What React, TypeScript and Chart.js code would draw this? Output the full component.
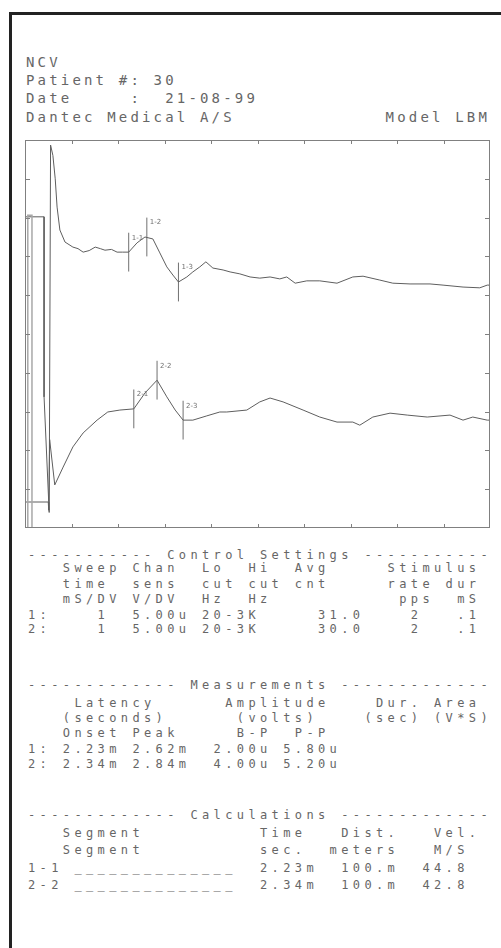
import React, { useEffect, useRef } from "react";
import { Chart, registerables } from "chart.js";

Chart.register(...registerables);

// ---- chart data (time in ms, level in screen divisions; 1 ms/div, 5 µV/div) ----
const xDivisions = [1, 2, 3, 4, 5, 6, 7, 8, 9];
const yDivisions = [1, 2, 3, 4, 5, 6, 7, 8, 9];

const trace1Time = [0, 0.41, 0.41, 0.52, 0.55, 0.6, 0.65, 0.69, 0.75, 0.86, 1.03, 1.14, 1.25, 1.38, 1.51, 1.62, 1.72, 1.86, 1.98, 2.1, 2.23, 2.41, 2.58, 2.75, 2.9, 3.05, 3.18, 3.3, 3.48, 3.61, 3.76, 3.89, 4.04, 4.26, 4.41, 4.62, 4.84, 5.05, 5.27, 5.48, 5.63, 5.81, 6.06, 6.34, 6.71, 7.05, 7.27, 7.63, 7.91, 8.28, 8.71, 8.99, 9.42, 9.78, 9.94, 10];
const trace1Level = [8.02, 8.02, 3.38, 0.4, 9.87, 9.6, 9.0, 8.27, 7.68, 7.37, 7.24, 7.2, 7.11, 7.15, 7.24, 7.2, 7.16, 7.18, 7.11, 7.11, 7.11, 7.35, 7.5, 7.45, 7.09, 6.73, 6.52, 6.34, 6.47, 6.6, 6.73, 6.86, 6.7, 6.65, 6.6, 6.55, 6.47, 6.44, 6.47, 6.42, 6.47, 6.31, 6.37, 6.37, 6.31, 6.47, 6.49, 6.39, 6.31, 6.29, 6.29, 6.26, 6.21, 6.19, 6.26, 6.26];

const trace2Time = [0, 0.5, 0.51, 0.53, 0.64, 0.82, 1.03, 1.25, 1.55, 1.78, 2.04, 2.34, 2.58, 2.84, 3.05, 3.23, 3.4, 3.61, 3.91, 4.19, 4.34, 4.77, 5.05, 5.27, 5.55, 5.98, 6.34, 6.71, 7.05, 7.2, 7.48, 7.85, 8.22, 8.65, 9.14, 9.42, 9.63, 9.94, 10];
const trace2Level = [0.67, 0.67, 0.46, 2.28, 1.11, 1.57, 2.09, 2.45, 2.78, 2.99, 3.04, 3.07, 3.48, 3.81, 3.38, 3.04, 2.78, 2.78, 2.89, 2.99, 2.99, 3.04, 3.25, 3.35, 3.25, 3.04, 2.86, 2.73, 2.73, 2.65, 2.86, 2.96, 2.91, 2.86, 2.91, 2.78, 2.86, 2.78, 2.78];

const stimTime = [0.06, 0.06, 0.15, 0.15];
const stimLevel = [0.02, 8.06, 8.06, 0.02];

const markerTimes1 = [2.23, 2.62, 3.3];
const markerLevels1 = [7.11, 7.5, 6.34];
const markerLabels1 = ["1-1", "1-2", "1-3"];
const markerTimes2 = [2.34, 2.84, 3.4];
const markerLevels2 = [3.07, 3.81, 2.78];
const markerLabels2 = ["2-1", "2-2", "2-3"];

// ---- printed text ----
const headerLines = ["NCV", "Patient #: 30", "Date     :  21-08-99", "Dantec Medical A/S             Model LBM"];
const headerY = [62, 80, 98, 117];

const controlLines = [
  "----------- Control Settings -----------",
  "   Sweep Chan  Lo  Hi  Avg     Stimulus",
  "   time  sens  cut cut cnt     rate dur",
  "   mS/DV V/DV  Hz  Hz           pps  mS",
  "1:    1  5.00u 20-3K     31.0    2   .1",
  "2:    1  5.00u 20-3K     30.0    2   .1",
];
const controlY = [555, 568, 584, 599, 615, 629];

const measureLines = [
  "------------- Measurements -------------",
  "    Latency      Amplitude    Dur. Area",
  "   (seconds)      (volts)    (sec) (V*S)",
  "   Onset Peak     B-P  P-P",
  "1: 2.23m 2.62m  2.00u 5.80u",
  "2: 2.34m 2.84m  4.00u 5.20u",
];
const measureY = [685, 703, 718, 733, 749, 764];

const calcLines = [
  "------------- Calculations -------------",
  "   Segment          Time   Dist.   Vel.",
  "   Segment          sec.  meters   M/S",
  "1-1 ______________  2.23m  100.m  44.8",
  "2-2 ______________  2.34m  100.m  42.8",
];
const calcY = [815, 833, 850, 868, 885];

const PITCH = 11.6;
const MONO = '"DejaVu Sans Mono", monospace';

function pts(t: number[], v: number[]) {
  return t.map((x, i) => ({ x, y: v[i] }));
}

function TextBlock({ lines, ys, x0, size }: { lines: string[]; ys: number[]; x0: number; size: number }) {
  const ls = PITCH - size * 0.602;
  return (
    <>
      {lines.map((ln, i) => (
        <div
          key={i}
          style={{
            position: "absolute",
            left: x0,
            top: ys[i] - size * 0.53,
            fontFamily: MONO,
            fontSize: size,
            lineHeight: `${size}px`,
            letterSpacing: `${ls}px`,
            whiteSpace: "pre",
            color: "#666",
          }}
        >
          {ln}
        </div>
      ))}
    </>
  );
}

export default function App() {
  const ref = useRef<HTMLCanvasElement | null>(null);

  useEffect(() => {
    if (!ref.current) return;
    const markerSets: any[] = [];
    const addMarkers = (ts: number[], vs: number[]) => {
      ts.forEach((t, i) => {
        markerSets.push({
          data: [
            { x: t, y: vs[i] - 0.5 },
            { x: t, y: vs[i] + 0.5 },
          ],
          borderColor: "#707070",
          borderWidth: 1,
          pointRadius: 0,
        });
      });
    };
    addMarkers(markerTimes1, markerLevels1);
    addMarkers(markerTimes2, markerLevels2);

    const framePlugin = {
      id: "frame",
      afterDraw(chart: any) {
        const { ctx, chartArea, scales } = chart;
        const { left, top, right, bottom } = chartArea;
        const xs = scales.x;
        const ys = scales.y;
        ctx.save();
        ctx.strokeStyle = "#808080";
        ctx.lineWidth = 1;
        ctx.strokeRect(left + 0.5, top + 0.5, right - left - 1, bottom - top - 1);
        ctx.beginPath();
        xDivisions.forEach((v) => {
          const px = Math.round(xs.getPixelForValue(v)) + 0.5;
          ctx.moveTo(px, top);
          ctx.lineTo(px, top + 4);
          ctx.moveTo(px, bottom);
          ctx.lineTo(px, bottom - 4);
        });
        yDivisions.forEach((v) => {
          const py = Math.round(ys.getPixelForValue(v)) + 0.5;
          ctx.moveTo(left, py);
          ctx.lineTo(left + 5, py);
          ctx.moveTo(right, py);
          ctx.lineTo(right - 5, py);
        });
        ctx.stroke();
        ctx.fillStyle = "#707070";
        ctx.font = '7px "DejaVu Sans", sans-serif';
        ctx.textBaseline = "middle";
        const lab = (ts: number[], vs: number[], ls: string[]) => {
          ts.forEach((t, i) => {
            const px = xs.getPixelForValue(t);
            const py = ys.getPixelForValue(vs[i] + 0.5);
            ctx.fillText(ls[i], px + 3, py + 5);
          });
        };
        lab(markerTimes1, markerLevels1, markerLabels1);
        lab(markerTimes2, markerLevels2, markerLabels2);
        ctx.restore();
      },
    };

    const chart = new Chart(ref.current, {
      type: "line",
      data: {
        datasets: [
          { data: pts(stimTime, stimLevel), borderColor: "#a8a8a8", borderWidth: 1.5, pointRadius: 0 },
          { data: pts(trace1Time, trace1Level), borderColor: "#5e5e5e", borderWidth: 1, pointRadius: 0 },
          { data: pts(trace2Time, trace2Level), borderColor: "#5e5e5e", borderWidth: 1, pointRadius: 0 },
          ...markerSets,
        ],
      },
      options: {
        animation: false,
        responsive: false,
        devicePixelRatio: 1,
        layout: { padding: { left: 5, right: 5, top: 5, bottom: 5 } },
        elements: { line: { tension: 0 } },
        plugins: { legend: { display: false }, tooltip: { enabled: false } },
        scales: {
          x: { type: "linear", min: 0, max: 10, display: false },
          y: { type: "linear", min: 0, max: 10, display: false },
        },
      },
      plugins: [framePlugin],
    });
    return () => chart.destroy();
  }, []);

  return (
    <div style={{ position: "absolute", left: 0, top: 0, width: 501, height: 948, overflow: "hidden", background: "#fff" }}>
      <div
        style={{
          position: "absolute",
          left: 9,
          top: 12,
          width: 600,
          height: 1000,
          border: "3px solid #222",
          boxSizing: "border-box",
        }}
      />
      <TextBlock lines={headerLines} ys={headerY} x0={26} size={14} />
      <canvas
        ref={ref}
        width={475}
        height={398}
        style={{ position: "absolute", left: 20, top: 135, width: 475, height: 398 }}
      />
      <TextBlock lines={controlLines} ys={controlY} x0={28} size={12} />
      <TextBlock lines={measureLines} ys={measureY} x0={28} size={12} />
      <TextBlock lines={calcLines} ys={calcY} x0={28} size={12} />
    </div>
  );
}
